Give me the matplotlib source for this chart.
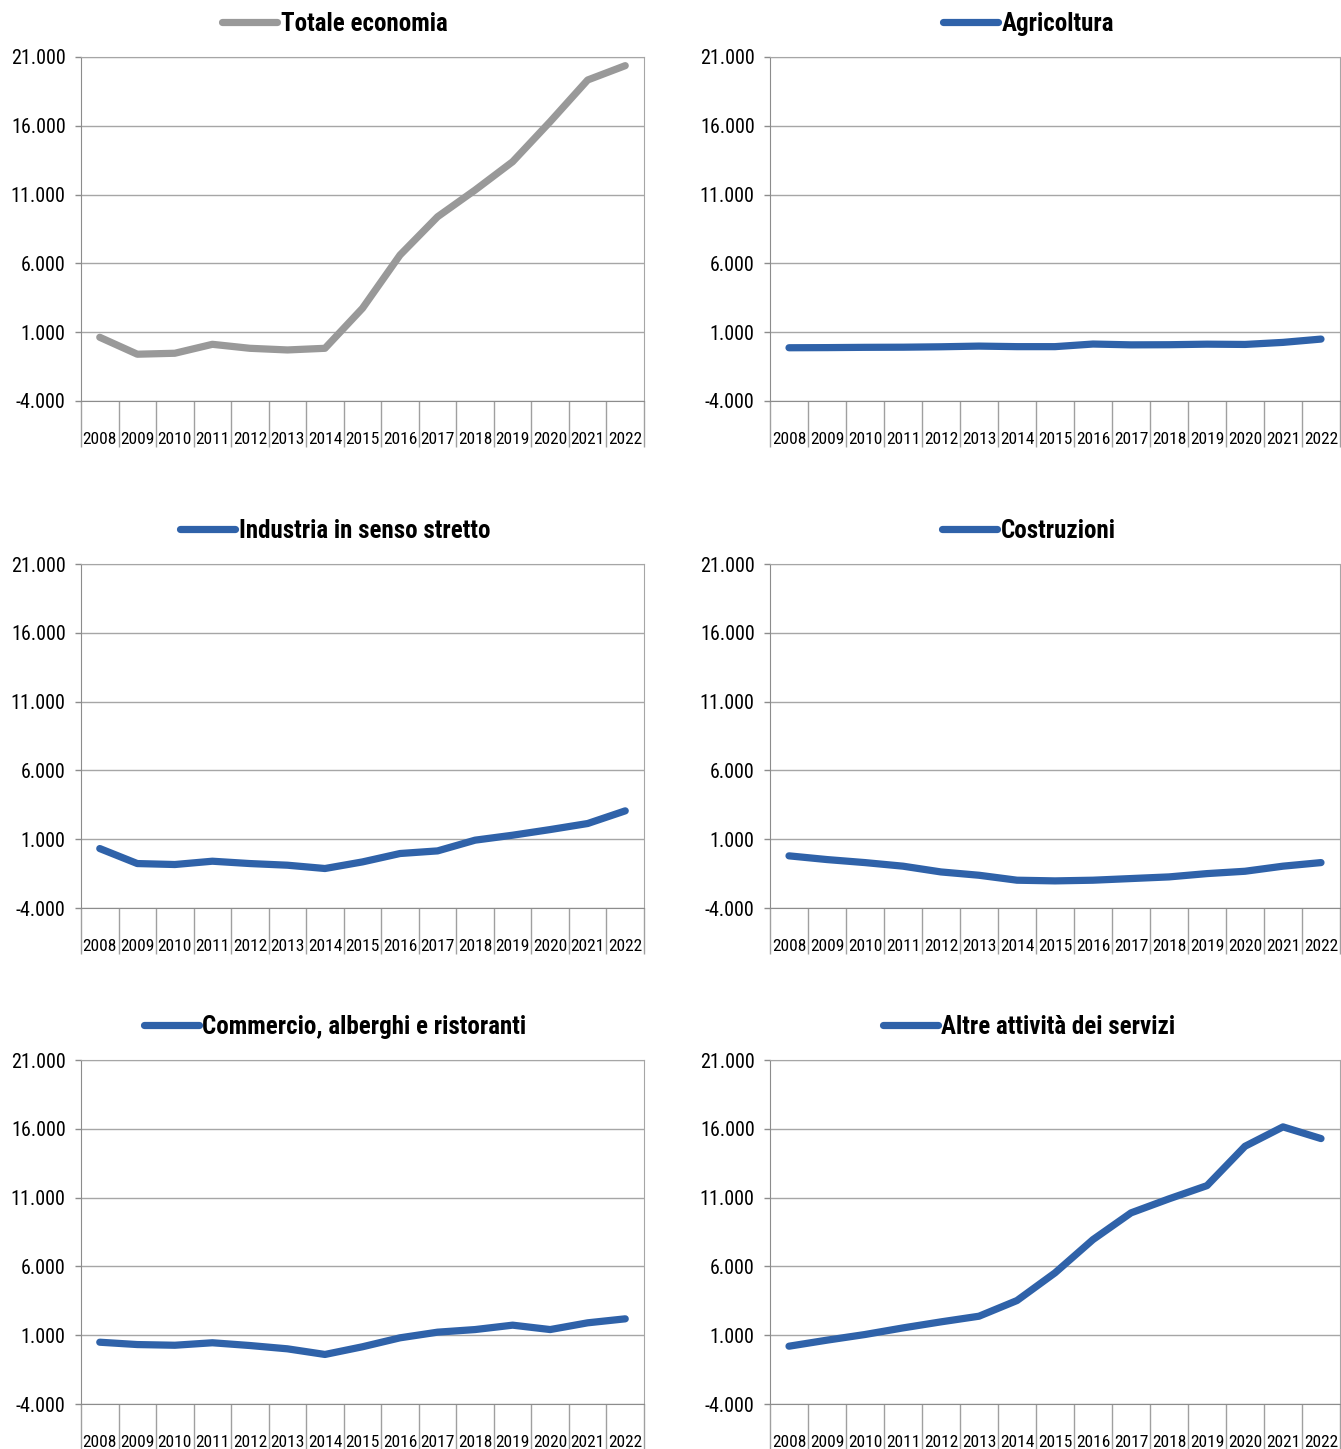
import numpy as np
import matplotlib.pyplot as plt
from matplotlib import font_manager

#%%
# dati: variazioni per settore, anni 2008-2022
anni = ['2008', '2009', '2010', '2011', '2012', '2013', '2014', '2015',
        '2016', '2017', '2018', '2019', '2020', '2021', '2022']

totale_economia = [630, -600, -530, 120, -170, -290, -170, 2740, 6610,
                   9390, 11330, 13390, 16300, 19330, 20370]
agricoltura = [-130, -120, -100, -90, -60, -10, -50, -50, 140, 80, 90,
               130, 110, 260, 500]
industria = [320, -770, -840, -600, -770, -890, -1130, -650, -40, 150,
             930, 1290, 1700, 2140, 3060]
costruzioni = [-210, -480, -700, -960, -1380, -1620, -1980, -2030, -1980,
               -1860, -1740, -1500, -1330, -960, -700]
commercio = [490, 320, 270, 450, 250, 10, -400, 160, 810, 1220, 1410,
             1730, 1410, 1900, 2190]
altre_servizi = [200, 640, 1050, 1530, 1970, 2380, 3520, 5530, 7950,
                 9890, 10910, 11870, 14730, 16140, 15290]

serie = [('Totale economia', totale_economia, '#999999'),
         ('Agricoltura', agricoltura, '#2F62A9'),
         ('Industria in senso stretto', industria, '#2F62A9'),
         ('Costruzioni', costruzioni, '#2F62A9'),
         ('Commercio, alberghi e ristoranti', commercio, '#2F62A9'),
         ('Altre attività dei servizi', altre_servizi, '#2F62A9')]

#%%
# font più stretto tra quelli disponibili
nomi = {f.name for f in font_manager.fontManager.ttflist}
font = 'DejaVu Sans'
for f in ['Liberation Sans Narrow', 'Roboto Condensed', 'Lato']:
    if f in nomi:
        font = f
        break
plt.rcParams['font.family'] = font

W, H = 1341, 1449
fig = plt.figure(figsize=(W / 100, H / 100), dpi=100)

# riquadri in pixel: (sinistra, destra) per colonna, (alto, basso) per riga
colonne = [(81, 644), (770, 1340)]
righe = [(57, 401), (564, 908), (1060, 1404)]
centri_legenda = [335, 1029]
grigio = '#8C8C8C'

for i, (nome, valori, colore) in enumerate(serie):
    c = i % 2
    r = i // 2
    x0, x1 = colonne[c]
    y0, y1 = righe[r]
    ax = fig.add_axes([x0 / W, 1 - y1 / H, (x1 - x0) / W, (y1 - y0) / H])

    x = np.arange(len(anni))
    linea, = ax.plot(x, valori, color=colore, lw=5.2, solid_capstyle='round',
                     solid_joinstyle='round', label=nome, zorder=3)

    ax.set_xlim(-0.5, len(anni) - 0.5)
    ax.set_ylim(-4000, 21000)
    yt = np.arange(-4000, 21001, 5000)
    ax.set_yticks(yt)
    ax.set_yticklabels([f'{v:,.0f}'.replace(',', '.') for v in yt], fontsize=14.5)
    ax.tick_params(axis='y', length=4, width=1, color=grigio, pad=7)
    ax.grid(axis='y', color='#A6A6A6', lw=1, zorder=0)

    # etichette degli anni al centro, righe verticali tra le categorie
    ax.set_xticks(x)
    ax.set_xticklabels(anni, fontsize=12.5)
    ax.tick_params(axis='x', which='major', length=0, pad=22)
    ax.set_xticks(np.arange(-0.5, len(anni)), minor=True)
    ax.tick_params(axis='x', which='minor', length=33, width=1, color='#A0A0A0',
                   direction='out')

    for lato in ['left', 'bottom']:
        ax.spines[lato].set_color(grigio)
    for lato in ['top', 'right']:
        ax.spines[lato].set_color('#A6A6A6')

    ax.legend(handles=[linea], loc='center', frameon=False,
              bbox_to_anchor=(centri_legenda[c] / W, 1 - (y0 - 33) / H),
              bbox_transform=fig.transFigure, handlelength=2.2,
              handletextpad=0.15, prop={'weight': 'bold', 'size': 18})

fig.savefig('out.png', dpi=100)
